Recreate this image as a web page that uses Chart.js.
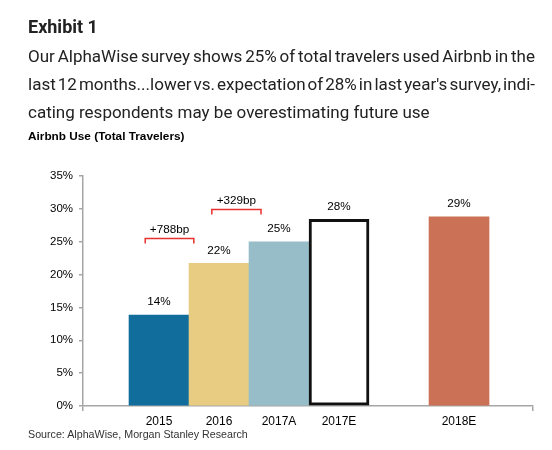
<!DOCTYPE html>
<html><head><meta charset="utf-8">
<script src="https://cdn.jsdelivr.net/npm/chart.js@4.4.1/dist/chart.umd.min.js"></script>
<style>
html,body{margin:0;padding:0;background:#fff;width:552px;height:450px;overflow:hidden}
#wrap{position:relative;width:552px;height:450px}
canvas{position:absolute;left:0;top:0}
.txt{position:absolute;left:28px;white-space:nowrap;color:#222;z-index:2}
#h1{top:16.5px;font:bold 18px Roboto;line-height:20px}
.sub{font:17px Roboto;line-height:28px}
#l1{top:42px}#l2{top:70px}#l3{top:98px}
#h2{top:129.5px;font:bold 11.8px "Liberation Sans";line-height:13px;color:#000}
#src{top:427.5px;font:10.7px "Liberation Sans";line-height:12px;color:#333}
</style>
</head><body>
<div id="wrap">
<canvas id="c" width="552" height="450"></canvas>
<div class="txt" id="h1">Exhibit 1</div>
<div class="txt sub" id="l1"><span>Our AlphaWise survey shows 25% of total travelers used Airbnb in the</span></div>
<div class="txt sub" id="l2"><span>last 12 months...lower vs. expectation of 28% in last year's survey, indi-</span></div>
<div class="txt sub" id="l3"><span>cating respondents may be overestimating future use</span></div>
<div class="txt" id="h2">Airbnb Use (Total Travelers)</div>
<div class="txt" id="src">Source: AlphaWise, Morgan Stanley Research</div>
</div>
<script>
// ---- data ----
const categories = ['2015', '2016', '2017A', '2017E', '', '2018E'];
const usage = [13.83, 21.71, 25.0, 28.4, null, 28.8];
const yTickValues = [0, 5, 10, 15, 20, 25, 30, 35];
const fillColors = ['#106d9c', '#e8cc81', '#97bec8', '#ffffff', null, '#cb7155'];
const borderColors = ['#106d9c', '#e8cc81', '#97bec8', '#111111', null, '#cb7155'];
const borderWidths = [0, 0, 0, 3, 0, 0];
const bracketLabels = ['+788bp', '+329bp'];
const bracketFrom = [-0.23, 0.88];
const bracketTo = [0.58, 1.70];
const bracketLevel = [25.5, 29.9];

// ---- justify subtitle lines ----
function justify(){
  [['l1',507],['l2',507]].forEach(([id,w])=>{
    const span=document.querySelector('#'+id+' span');
    span.style.wordSpacing='0px';
    const nat=span.getBoundingClientRect().width;
    const n=(span.textContent.match(/ /g)||[]).length;
    span.style.wordSpacing=((w-nat)/n)+'px';
  });
}
justify();
if(document.fonts&&document.fonts.ready){document.fonts.ready.then(justify);}

const idx = categories.map((c,i)=>i).filter(i=>usage[i]!==null);
const points = idx.map(i=>({x:i,y:usage[i]}));

const xMin = -1.267, xMax = 6.233;
const axisGray = '#a6a6a6';

const labelPlugin = {
  id:'barLabels',
  afterDatasetsDraw(chart){
    const ctx=chart.ctx, meta=chart.getDatasetMeta(0);
    const xs=chart.scales.x, ys=chart.scales.y;
    ctx.save();
    ctx.font='11.7px "Liberation Sans"';
    ctx.fillStyle='#000';
    ctx.textAlign='center';
    ctx.textBaseline='middle';
    meta.data.forEach((el,i)=>{
      const v=chart.data.datasets[0].data[i].y;
      ctx.fillText(Math.round(v)+'%', el.x, el.y-13);
    });
    ctx.strokeStyle='#e8312f';
    ctx.lineWidth=1.5;
    bracketLabels.forEach((lab,i)=>{
      const x1=xs.getPixelForValue(bracketFrom[i]);
      const x2=xs.getPixelForValue(bracketTo[i]);
      const y=ys.getPixelForValue(bracketLevel[i]);
      ctx.beginPath();
      ctx.moveTo(x1,y+5);ctx.lineTo(x1,y);ctx.lineTo(x2,y);ctx.lineTo(x2,y+5);
      ctx.stroke();
      ctx.fillText(lab,(x1+x2)/2,y-9);
    });
    ctx.restore();
  }
};

new Chart(document.getElementById('c'),{
  type:'bar',
  data:{datasets:[{
    data:points,
    backgroundColor:idx.map(i=>fillColors[i]),
    borderColor:idx.map(i=>borderColors[i]),
    borderWidth:idx.map(i=>borderWidths[i]),
    borderSkipped:false,
    barPercentage:1,
    categoryPercentage:1,
    grouped:false
  }]},
  options:{
    responsive:false,
    animation:false,
    devicePixelRatio:1,
    layout:{padding:{top:176,right:19,left:0,bottom:0}},
    plugins:{legend:{display:false},tooltip:{enabled:false}},
    scales:{
      x:{
        type:'linear',
        offset:false,
        bounds:'data',
        min:xMin,max:xMax,
        afterBuildTicks(scale){
          scale.ticks=[xMin].concat(categories.map((c,i)=>i)).concat([xMax]).map(v=>({value:v}));
        },
        afterFit(scale){scale.height=44;},
        ticks:{
          autoSkip:false,maxRotation:0,padding:3,color:'#000',
          font:{family:'Liberation Sans',size:12},
          callback:(v)=>Number.isInteger(v)?categories[v]:''
        },
        grid:{display:true,offset:false,drawOnChartArea:false,drawTicks:true,tickLength:5,lineWidth:1.5,
          tickColor:(ctx)=>(ctx.tick&&Number.isInteger(ctx.tick.value))?'rgba(0,0,0,0)':axisGray,
          color:'rgba(0,0,0,0)'},
        border:{display:true,color:axisGray,width:1.5}
      },
      y:{
        min:0,max:35,
        afterBuildTicks(scale){scale.ticks=yTickValues.map(v=>({value:v}));},
        afterFit(scale){scale.width=83;},
        ticks:{padding:6,color:'#000',font:{family:'Liberation Sans',size:11.5},callback:(v)=>v+'%'},
        grid:{display:true,drawOnChartArea:false,drawTicks:true,tickLength:4,tickColor:axisGray,lineWidth:1.5},
        border:{display:true,color:axisGray,width:1.5}
      }
    }
  },
  plugins:[labelPlugin]
});
</script>
</body></html>
